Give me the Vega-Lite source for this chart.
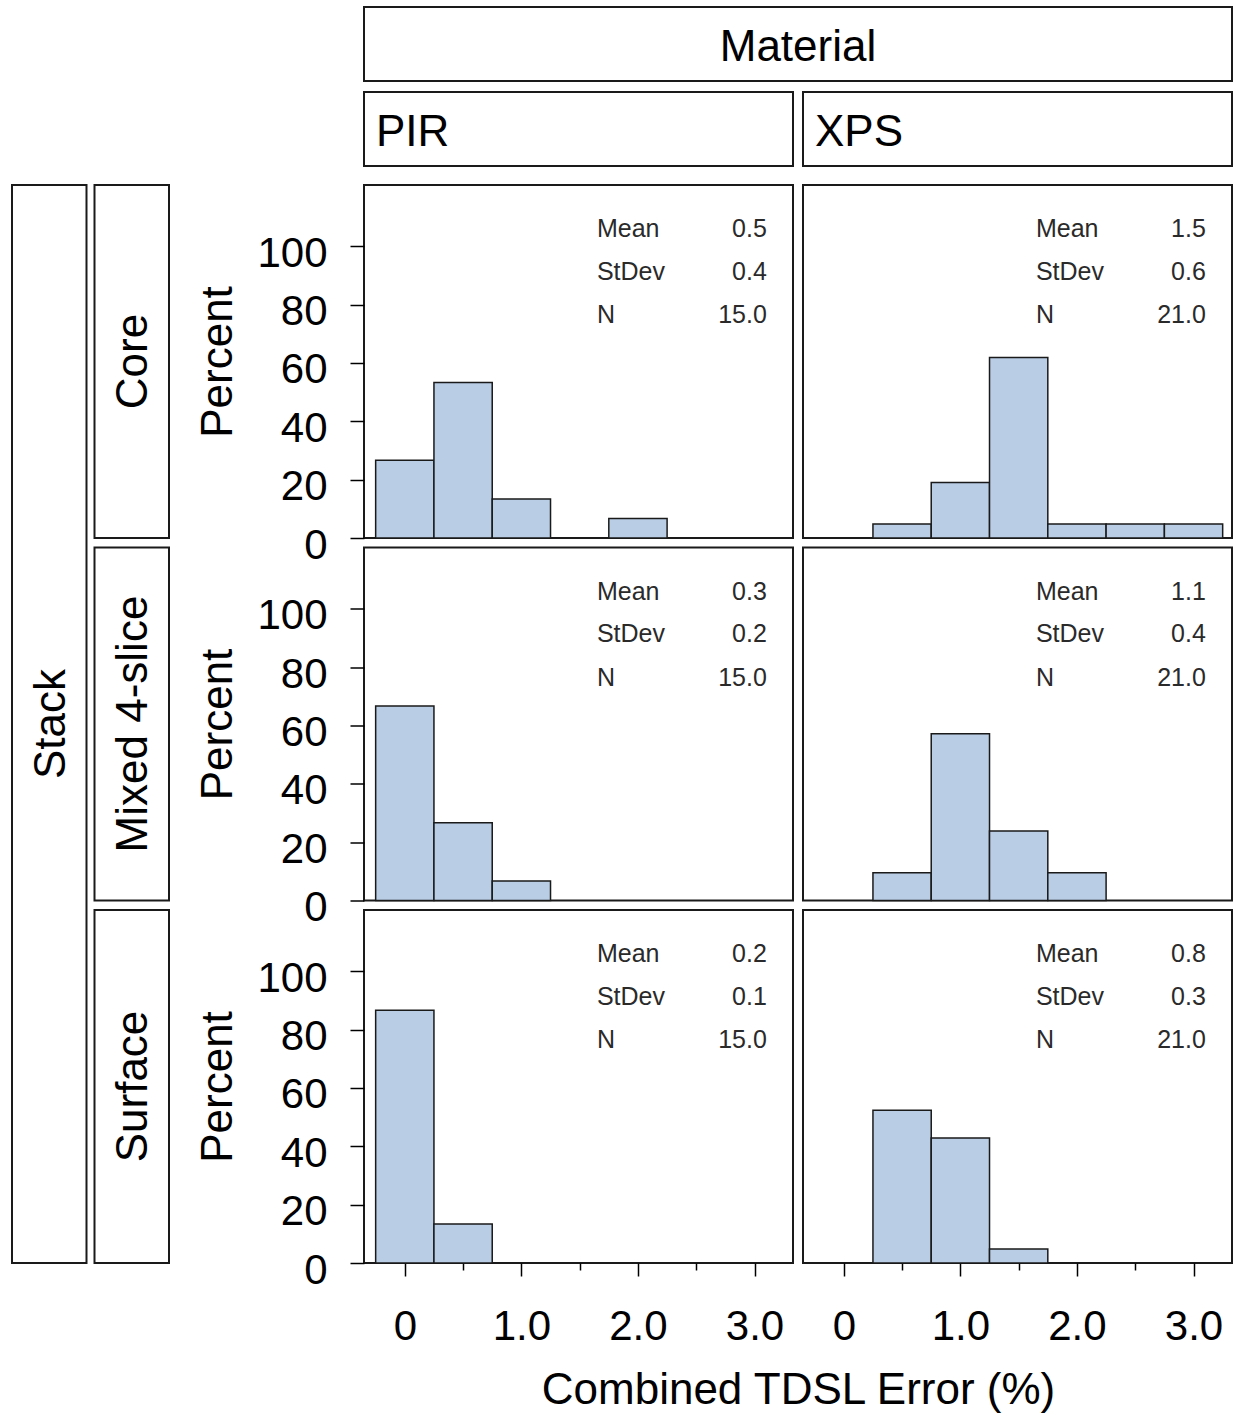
{
  "$schema": "https://vega.github.io/schema/vega-lite/v6.json",
  "background": "white",
  "padding": {"left": 11, "top": 6, "right": 2, "bottom": 2},
  "config": {
    "font": "Liberation Sans",
    "view": {"stroke": null},
    "text": {"font": "Liberation Sans"},
    "axis": {"labelFont": "Liberation Sans", "titleFont": "Liberation Sans", "labelFontSize": 42, "labelColor": "black", "tickColor": "black", "tickWidth": 1.5, "domain": false, "grid": false, "labelOverlap": false, "labelFlush": false, "titleFontSize": 44, "titleFontWeight": "normal", "titleColor": "black"},
    "axisY": {"labelPadding": 23, "labelOffset": 7, "tickSize": 14, "titlePadding": 16},
    "axisX": {"labelPadding": 30, "titlePadding": 21}
  },
  "datasets": {
    "bins": [
      {"material": "PIR", "stack": "Core", "bin_start": -0.25, "bin_end": 0.25, "percent": 26.67},
      {"material": "PIR", "stack": "Core", "bin_start": 0.25, "bin_end": 0.75, "percent": 53.33},
      {"material": "PIR", "stack": "Core", "bin_start": 0.75, "bin_end": 1.25, "percent": 13.33},
      {"material": "PIR", "stack": "Core", "bin_start": 1.75, "bin_end": 2.25, "percent": 6.67},
      {"material": "XPS", "stack": "Core", "bin_start": 0.25, "bin_end": 0.75, "percent": 4.76},
      {"material": "XPS", "stack": "Core", "bin_start": 0.75, "bin_end": 1.25, "percent": 19.05},
      {"material": "XPS", "stack": "Core", "bin_start": 1.25, "bin_end": 1.75, "percent": 61.9},
      {"material": "XPS", "stack": "Core", "bin_start": 1.75, "bin_end": 2.25, "percent": 4.76},
      {"material": "XPS", "stack": "Core", "bin_start": 2.25, "bin_end": 2.75, "percent": 4.76},
      {"material": "XPS", "stack": "Core", "bin_start": 2.75, "bin_end": 3.25, "percent": 4.76},
      {"material": "PIR", "stack": "Mixed 4-slice", "bin_start": -0.25, "bin_end": 0.25, "percent": 66.67},
      {"material": "PIR", "stack": "Mixed 4-slice", "bin_start": 0.25, "bin_end": 0.75, "percent": 26.67},
      {"material": "PIR", "stack": "Mixed 4-slice", "bin_start": 0.75, "bin_end": 1.25, "percent": 6.67},
      {"material": "XPS", "stack": "Mixed 4-slice", "bin_start": 0.25, "bin_end": 0.75, "percent": 9.52},
      {"material": "XPS", "stack": "Mixed 4-slice", "bin_start": 0.75, "bin_end": 1.25, "percent": 57.14},
      {"material": "XPS", "stack": "Mixed 4-slice", "bin_start": 1.25, "bin_end": 1.75, "percent": 23.81},
      {"material": "XPS", "stack": "Mixed 4-slice", "bin_start": 1.75, "bin_end": 2.25, "percent": 9.52},
      {"material": "PIR", "stack": "Surface", "bin_start": -0.25, "bin_end": 0.25, "percent": 86.67},
      {"material": "PIR", "stack": "Surface", "bin_start": 0.25, "bin_end": 0.75, "percent": 13.33},
      {"material": "XPS", "stack": "Surface", "bin_start": 0.25, "bin_end": 0.75, "percent": 52.38},
      {"material": "XPS", "stack": "Surface", "bin_start": 0.75, "bin_end": 1.25, "percent": 42.86},
      {"material": "XPS", "stack": "Surface", "bin_start": 1.25, "bin_end": 1.75, "percent": 4.76}
    ],
    "stats": [
      {"material": "PIR", "stack": "Core", "mean": 0.5, "stdev": 0.4, "n": 15},
      {"material": "XPS", "stack": "Core", "mean": 1.5, "stdev": 0.6, "n": 21},
      {"material": "PIR", "stack": "Mixed 4-slice", "mean": 0.3, "stdev": 0.2, "n": 15},
      {"material": "XPS", "stack": "Mixed 4-slice", "mean": 1.1, "stdev": 0.4, "n": 21},
      {"material": "PIR", "stack": "Surface", "mean": 0.2, "stdev": 0.1, "n": 15},
      {"material": "XPS", "stack": "Surface", "mean": 0.8, "stdev": 0.3, "n": 21}
    ],
    "colheads": [
      {"level": "top", "label": "Material"},
      {"level": "bottom", "material": "PIR", "label": "PIR"},
      {"level": "bottom", "material": "XPS", "label": "XPS"}
    ],
    "rowheads": [
      {"col": "outer", "label": "Stack"},
      {"col": "inner", "stack": "Core", "label": "Core"},
      {"col": "inner", "stack": "Mixed 4-slice", "label": "Mixed 4-slice"},
      {"col": "inner", "stack": "Surface", "label": "Surface"}
    ]
  },
  "columns": 2,
  "spacing": {"row": 19, "column": 195},
  "bounds": "flush",
  "concat": [
    {
      "width": 157, "height": 159,
      "data": {"values": [{"a": 1}]},
      "mark": {"type": "text", "text": ""},
      "encoding": {}
    },
    {
      "width": 868, "height": 159,
      "data": {"name": "colheads"},
      "layer": [
        {
          "transform": [{"filter": "datum.level == 'top'"}],
          "mark": {"type": "rect", "fill": "white", "stroke": "#1a1a1a", "strokeWidth": 2},
          "encoding": {
            "y": {"field": "level", "type": "nominal", "scale": {"type": "band", "domain": ["top", "bottom"], "paddingInner": 0.1294, "paddingOuter": 0}, "axis": null}
          }
        },
        {
          "transform": [{"filter": "datum.level == 'bottom'"}],
          "mark": {"type": "rect", "fill": "white", "stroke": "#1a1a1a", "strokeWidth": 2},
          "encoding": {
            "x": {"field": "material", "type": "nominal", "scale": {"type": "band", "domain": ["PIR", "XPS"], "paddingInner": 0.02278, "paddingOuter": 0}, "axis": null},
            "y": {"field": "level", "type": "nominal", "scale": {"type": "band", "domain": ["top", "bottom"], "paddingInner": 0.1294, "paddingOuter": 0}, "axis": null}
          }
        },
        {
          "transform": [{"filter": "datum.level == 'top'"}],
          "mark": {"type": "text", "fontSize": 44, "fill": "black", "baseline": "middle"},
          "encoding": {
            "y": {"field": "level", "type": "nominal", "bandPosition": 0.555, "scale": {"type": "band", "domain": ["top", "bottom"], "paddingInner": 0.1294, "paddingOuter": 0}, "axis": null},
            "text": {"field": "label"}
          }
        },
        {
          "transform": [{"filter": "datum.level == 'bottom'"}],
          "mark": {"type": "text", "fontSize": 44, "fill": "black", "align": "left", "baseline": "middle"},
          "encoding": {
            "x": {"field": "material", "type": "nominal", "bandPosition": 0.028, "scale": {"type": "band", "domain": ["PIR", "XPS"], "paddingInner": 0.02278, "paddingOuter": 0}, "axis": null},
            "y": {"field": "level", "type": "nominal", "bandPosition": 0.555, "scale": {"type": "band", "domain": ["top", "bottom"], "paddingInner": 0.1294, "paddingOuter": 0}, "axis": null},
            "text": {"field": "label"}
          }
        }
      ]
    },
    {
      "width": 157, "height": 1078,
      "data": {"name": "rowheads"},
      "layer": [
        {
          "transform": [{"filter": "datum.col == 'outer'"}],
          "mark": {"type": "rect", "fill": "white", "stroke": "#1a1a1a", "strokeWidth": 2},
          "encoding": {
            "x": {"field": "col", "type": "nominal", "scale": {"type": "band", "domain": ["outer", "inner"], "paddingInner": 0.097, "paddingOuter": 0}, "axis": null}
          }
        },
        {
          "transform": [{"filter": "datum.col == 'inner'"}],
          "mark": {"type": "rect", "fill": "white", "stroke": "#1a1a1a", "strokeWidth": 2},
          "encoding": {
            "x": {"field": "col", "type": "nominal", "scale": {"type": "band", "domain": ["outer", "inner"], "paddingInner": 0.097, "paddingOuter": 0}, "axis": null},
            "y": {"field": "stack", "type": "nominal", "scale": {"type": "band", "domain": ["Core", "Mixed 4-slice", "Surface"], "paddingInner": 0.026207, "paddingOuter": 0}, "axis": null}
          }
        },
        {
          "transform": [{"filter": "datum.col == 'outer'"}],
          "mark": {"type": "text", "fontSize": 44, "fill": "black", "angle": 270, "baseline": "middle"},
          "encoding": {
            "x": {"field": "col", "type": "nominal", "bandPosition": 0.54, "scale": {"type": "band", "domain": ["outer", "inner"], "paddingInner": 0.097, "paddingOuter": 0}, "axis": null},
            "text": {"field": "label"}
          }
        },
        {
          "transform": [{"filter": "datum.col == 'inner'"}],
          "mark": {"type": "text", "fontSize": 44, "fill": "black", "angle": 270, "baseline": "middle"},
          "encoding": {
            "x": {"field": "col", "type": "nominal", "bandPosition": 0.53, "scale": {"type": "band", "domain": ["outer", "inner"], "paddingInner": 0.097, "paddingOuter": 0}, "axis": null},
            "y": {"field": "stack", "type": "nominal", "bandPosition": 0.5, "scale": {"type": "band", "domain": ["Core", "Mixed 4-slice", "Surface"], "paddingInner": 0.026207, "paddingOuter": 0}, "axis": null},
            "text": {"field": "label"}
          }
        }
      ]
    },
    {
      "columns": 2,
      "spacing": {"row": 9.5, "column": 10},
      "bounds": "flush",
      "concat": [
        {
          "width": 429, "height": 353,
          "view": {"stroke": "#1a1a1a", "strokeWidth": 2},
          "layer": [
            {"data": {"name": "bins"}, "transform": [{"filter": "datum.material == 'PIR' && datum.stack == 'Core'"}],
             "mark": {"type": "rect", "fill": "#B9CDE5", "stroke": "#1a1a1a", "strokeWidth": 1.5},
             "encoding": {
               "x": {"field": "bin_start", "type": "quantitative", "scale": {"domain": [-0.35, 3.33], "nice": false, "zero": false}, "axis": null},
               "x2": {"field": "bin_end"},
               "y": {"field": "percent", "type": "quantitative", "scale": {"domain": [0, 121], "nice": false, "zero": false}, "axis": {"values": [0, 20, 40, 60, 80, 100], "title": "Percent"}},
               "y2": {"datum": 0}}},
            {"data": {"name": "stats"}, "transform": [{"filter": "datum.material == 'PIR' && datum.stack == 'Core'"}], "mark": {"type": "text", "align": "left", "baseline": "middle", "fontSize": 25, "fill": "#2a2a2a"}, "encoding": {"x": {"datum": 1.648, "axis": null}, "y": {"datum": 105.9, "axis": {"values": [0, 20, 40, 60, 80, 100], "title": "Percent"}}, "text": {"value": "Mean"}}},
            {"data": {"name": "stats"}, "transform": [{"filter": "datum.material == 'PIR' && datum.stack == 'Core'"}], "mark": {"type": "text", "align": "left", "baseline": "middle", "fontSize": 25, "fill": "#2a2a2a"}, "encoding": {"x": {"datum": 1.648, "axis": null}, "y": {"datum": 91.2, "axis": {"values": [0, 20, 40, 60, 80, 100], "title": "Percent"}}, "text": {"value": "StDev"}}},
            {"data": {"name": "stats"}, "transform": [{"filter": "datum.material == 'PIR' && datum.stack == 'Core'"}], "mark": {"type": "text", "align": "left", "baseline": "middle", "fontSize": 25, "fill": "#2a2a2a"}, "encoding": {"x": {"datum": 1.648, "axis": null}, "y": {"datum": 76.4, "axis": {"values": [0, 20, 40, 60, 80, 100], "title": "Percent"}}, "text": {"value": "N"}}},
            {"data": {"name": "stats"}, "transform": [{"filter": "datum.material == 'PIR' && datum.stack == 'Core'"}], "mark": {"type": "text", "align": "right", "baseline": "middle", "fontSize": 25, "fill": "#2a2a2a"}, "encoding": {"x": {"datum": 3.106, "axis": null}, "y": {"datum": 105.9, "axis": {"values": [0, 20, 40, 60, 80, 100], "title": "Percent"}}, "text": {"field": "mean", "type": "quantitative", "format": ".1f"}}},
            {"data": {"name": "stats"}, "transform": [{"filter": "datum.material == 'PIR' && datum.stack == 'Core'"}], "mark": {"type": "text", "align": "right", "baseline": "middle", "fontSize": 25, "fill": "#2a2a2a"}, "encoding": {"x": {"datum": 3.106, "axis": null}, "y": {"datum": 91.2, "axis": {"values": [0, 20, 40, 60, 80, 100], "title": "Percent"}}, "text": {"field": "stdev", "type": "quantitative", "format": ".1f"}}},
            {"data": {"name": "stats"}, "transform": [{"filter": "datum.material == 'PIR' && datum.stack == 'Core'"}], "mark": {"type": "text", "align": "right", "baseline": "middle", "fontSize": 25, "fill": "#2a2a2a"}, "encoding": {"x": {"datum": 3.106, "axis": null}, "y": {"datum": 76.4, "axis": {"values": [0, 20, 40, 60, 80, 100], "title": "Percent"}}, "text": {"field": "n", "type": "quantitative", "format": ".1f"}}}
          ]
        },
        {
          "width": 429, "height": 353,
          "view": {"stroke": "#1a1a1a", "strokeWidth": 2},
          "layer": [
            {"data": {"name": "bins"}, "transform": [{"filter": "datum.material == 'XPS' && datum.stack == 'Core'"}],
             "mark": {"type": "rect", "fill": "#B9CDE5", "stroke": "#1a1a1a", "strokeWidth": 1.5},
             "encoding": {
               "x": {"field": "bin_start", "type": "quantitative", "scale": {"domain": [-0.35, 3.33], "nice": false, "zero": false}, "axis": null},
               "x2": {"field": "bin_end"},
               "y": {"field": "percent", "type": "quantitative", "scale": {"domain": [0, 121], "nice": false, "zero": false}, "axis": null},
               "y2": {"datum": 0}}},
            {"data": {"name": "stats"}, "transform": [{"filter": "datum.material == 'XPS' && datum.stack == 'Core'"}], "mark": {"type": "text", "align": "left", "baseline": "middle", "fontSize": 25, "fill": "#2a2a2a"}, "encoding": {"x": {"datum": 1.648, "axis": null}, "y": {"datum": 105.9, "axis": null}, "text": {"value": "Mean"}}},
            {"data": {"name": "stats"}, "transform": [{"filter": "datum.material == 'XPS' && datum.stack == 'Core'"}], "mark": {"type": "text", "align": "left", "baseline": "middle", "fontSize": 25, "fill": "#2a2a2a"}, "encoding": {"x": {"datum": 1.648, "axis": null}, "y": {"datum": 91.2, "axis": null}, "text": {"value": "StDev"}}},
            {"data": {"name": "stats"}, "transform": [{"filter": "datum.material == 'XPS' && datum.stack == 'Core'"}], "mark": {"type": "text", "align": "left", "baseline": "middle", "fontSize": 25, "fill": "#2a2a2a"}, "encoding": {"x": {"datum": 1.648, "axis": null}, "y": {"datum": 76.4, "axis": null}, "text": {"value": "N"}}},
            {"data": {"name": "stats"}, "transform": [{"filter": "datum.material == 'XPS' && datum.stack == 'Core'"}], "mark": {"type": "text", "align": "right", "baseline": "middle", "fontSize": 25, "fill": "#2a2a2a"}, "encoding": {"x": {"datum": 3.106, "axis": null}, "y": {"datum": 105.9, "axis": null}, "text": {"field": "mean", "type": "quantitative", "format": ".1f"}}},
            {"data": {"name": "stats"}, "transform": [{"filter": "datum.material == 'XPS' && datum.stack == 'Core'"}], "mark": {"type": "text", "align": "right", "baseline": "middle", "fontSize": 25, "fill": "#2a2a2a"}, "encoding": {"x": {"datum": 3.106, "axis": null}, "y": {"datum": 91.2, "axis": null}, "text": {"field": "stdev", "type": "quantitative", "format": ".1f"}}},
            {"data": {"name": "stats"}, "transform": [{"filter": "datum.material == 'XPS' && datum.stack == 'Core'"}], "mark": {"type": "text", "align": "right", "baseline": "middle", "fontSize": 25, "fill": "#2a2a2a"}, "encoding": {"x": {"datum": 3.106, "axis": null}, "y": {"datum": 76.4, "axis": null}, "text": {"field": "n", "type": "quantitative", "format": ".1f"}}}
          ]
        },
        {
          "width": 429, "height": 353,
          "view": {"stroke": "#1a1a1a", "strokeWidth": 2},
          "layer": [
            {"data": {"name": "bins"}, "transform": [{"filter": "datum.material == 'PIR' && datum.stack == 'Mixed 4-slice'"}],
             "mark": {"type": "rect", "fill": "#B9CDE5", "stroke": "#1a1a1a", "strokeWidth": 1.5},
             "encoding": {
               "x": {"field": "bin_start", "type": "quantitative", "scale": {"domain": [-0.35, 3.33], "nice": false, "zero": false}, "axis": null},
               "x2": {"field": "bin_end"},
               "y": {"field": "percent", "type": "quantitative", "scale": {"domain": [0, 121], "nice": false, "zero": false}, "axis": {"values": [0, 20, 40, 60, 80, 100], "title": "Percent"}},
               "y2": {"datum": 0}}},
            {"data": {"name": "stats"}, "transform": [{"filter": "datum.material == 'PIR' && datum.stack == 'Mixed 4-slice'"}], "mark": {"type": "text", "align": "left", "baseline": "middle", "fontSize": 25, "fill": "#2a2a2a"}, "encoding": {"x": {"datum": 1.648, "axis": null}, "y": {"datum": 105.9, "axis": {"values": [0, 20, 40, 60, 80, 100], "title": "Percent"}}, "text": {"value": "Mean"}}},
            {"data": {"name": "stats"}, "transform": [{"filter": "datum.material == 'PIR' && datum.stack == 'Mixed 4-slice'"}], "mark": {"type": "text", "align": "left", "baseline": "middle", "fontSize": 25, "fill": "#2a2a2a"}, "encoding": {"x": {"datum": 1.648, "axis": null}, "y": {"datum": 91.2, "axis": {"values": [0, 20, 40, 60, 80, 100], "title": "Percent"}}, "text": {"value": "StDev"}}},
            {"data": {"name": "stats"}, "transform": [{"filter": "datum.material == 'PIR' && datum.stack == 'Mixed 4-slice'"}], "mark": {"type": "text", "align": "left", "baseline": "middle", "fontSize": 25, "fill": "#2a2a2a"}, "encoding": {"x": {"datum": 1.648, "axis": null}, "y": {"datum": 76.4, "axis": {"values": [0, 20, 40, 60, 80, 100], "title": "Percent"}}, "text": {"value": "N"}}},
            {"data": {"name": "stats"}, "transform": [{"filter": "datum.material == 'PIR' && datum.stack == 'Mixed 4-slice'"}], "mark": {"type": "text", "align": "right", "baseline": "middle", "fontSize": 25, "fill": "#2a2a2a"}, "encoding": {"x": {"datum": 3.106, "axis": null}, "y": {"datum": 105.9, "axis": {"values": [0, 20, 40, 60, 80, 100], "title": "Percent"}}, "text": {"field": "mean", "type": "quantitative", "format": ".1f"}}},
            {"data": {"name": "stats"}, "transform": [{"filter": "datum.material == 'PIR' && datum.stack == 'Mixed 4-slice'"}], "mark": {"type": "text", "align": "right", "baseline": "middle", "fontSize": 25, "fill": "#2a2a2a"}, "encoding": {"x": {"datum": 3.106, "axis": null}, "y": {"datum": 91.2, "axis": {"values": [0, 20, 40, 60, 80, 100], "title": "Percent"}}, "text": {"field": "stdev", "type": "quantitative", "format": ".1f"}}},
            {"data": {"name": "stats"}, "transform": [{"filter": "datum.material == 'PIR' && datum.stack == 'Mixed 4-slice'"}], "mark": {"type": "text", "align": "right", "baseline": "middle", "fontSize": 25, "fill": "#2a2a2a"}, "encoding": {"x": {"datum": 3.106, "axis": null}, "y": {"datum": 76.4, "axis": {"values": [0, 20, 40, 60, 80, 100], "title": "Percent"}}, "text": {"field": "n", "type": "quantitative", "format": ".1f"}}}
          ]
        },
        {
          "width": 429, "height": 353,
          "view": {"stroke": "#1a1a1a", "strokeWidth": 2},
          "layer": [
            {"data": {"name": "bins"}, "transform": [{"filter": "datum.material == 'XPS' && datum.stack == 'Mixed 4-slice'"}],
             "mark": {"type": "rect", "fill": "#B9CDE5", "stroke": "#1a1a1a", "strokeWidth": 1.5},
             "encoding": {
               "x": {"field": "bin_start", "type": "quantitative", "scale": {"domain": [-0.35, 3.33], "nice": false, "zero": false}, "axis": null},
               "x2": {"field": "bin_end"},
               "y": {"field": "percent", "type": "quantitative", "scale": {"domain": [0, 121], "nice": false, "zero": false}, "axis": null},
               "y2": {"datum": 0}}},
            {"data": {"name": "stats"}, "transform": [{"filter": "datum.material == 'XPS' && datum.stack == 'Mixed 4-slice'"}], "mark": {"type": "text", "align": "left", "baseline": "middle", "fontSize": 25, "fill": "#2a2a2a"}, "encoding": {"x": {"datum": 1.648, "axis": null}, "y": {"datum": 105.9, "axis": null}, "text": {"value": "Mean"}}},
            {"data": {"name": "stats"}, "transform": [{"filter": "datum.material == 'XPS' && datum.stack == 'Mixed 4-slice'"}], "mark": {"type": "text", "align": "left", "baseline": "middle", "fontSize": 25, "fill": "#2a2a2a"}, "encoding": {"x": {"datum": 1.648, "axis": null}, "y": {"datum": 91.2, "axis": null}, "text": {"value": "StDev"}}},
            {"data": {"name": "stats"}, "transform": [{"filter": "datum.material == 'XPS' && datum.stack == 'Mixed 4-slice'"}], "mark": {"type": "text", "align": "left", "baseline": "middle", "fontSize": 25, "fill": "#2a2a2a"}, "encoding": {"x": {"datum": 1.648, "axis": null}, "y": {"datum": 76.4, "axis": null}, "text": {"value": "N"}}},
            {"data": {"name": "stats"}, "transform": [{"filter": "datum.material == 'XPS' && datum.stack == 'Mixed 4-slice'"}], "mark": {"type": "text", "align": "right", "baseline": "middle", "fontSize": 25, "fill": "#2a2a2a"}, "encoding": {"x": {"datum": 3.106, "axis": null}, "y": {"datum": 105.9, "axis": null}, "text": {"field": "mean", "type": "quantitative", "format": ".1f"}}},
            {"data": {"name": "stats"}, "transform": [{"filter": "datum.material == 'XPS' && datum.stack == 'Mixed 4-slice'"}], "mark": {"type": "text", "align": "right", "baseline": "middle", "fontSize": 25, "fill": "#2a2a2a"}, "encoding": {"x": {"datum": 3.106, "axis": null}, "y": {"datum": 91.2, "axis": null}, "text": {"field": "stdev", "type": "quantitative", "format": ".1f"}}},
            {"data": {"name": "stats"}, "transform": [{"filter": "datum.material == 'XPS' && datum.stack == 'Mixed 4-slice'"}], "mark": {"type": "text", "align": "right", "baseline": "middle", "fontSize": 25, "fill": "#2a2a2a"}, "encoding": {"x": {"datum": 3.106, "axis": null}, "y": {"datum": 76.4, "axis": null}, "text": {"field": "n", "type": "quantitative", "format": ".1f"}}}
          ]
        },
        {
          "width": 429, "height": 353,
          "view": {"stroke": "#1a1a1a", "strokeWidth": 2},
          "layer": [
            {"data": {"name": "bins"}, "transform": [{"filter": "datum.material == 'PIR' && datum.stack == 'Surface'"}],
             "mark": {"type": "rect", "fill": "#B9CDE5", "stroke": "#1a1a1a", "strokeWidth": 1.5},
             "encoding": {
               "x": {"field": "bin_start", "type": "quantitative", "scale": {"domain": [-0.35, 3.33], "nice": false, "zero": false}, "axis": {"values": [0, 0.5, 1, 1.5, 2, 2.5, 3], "labelExpr": "datum.value == 0 ? '0' : (datum.value % 1 == 0 ? format(datum.value, '.1f') : '')", "tickSize": {"condition": {"test": "datum.value % 1 == 0", "value": 13}, "value": 7}, "title": "Combined TDSL Error (%)", "titleX": 434, "titleAlign": "center"}},
               "x2": {"field": "bin_end"},
               "y": {"field": "percent", "type": "quantitative", "scale": {"domain": [0, 121], "nice": false, "zero": false}, "axis": {"values": [0, 20, 40, 60, 80, 100], "title": "Percent"}},
               "y2": {"datum": 0}}},
            {"data": {"name": "stats"}, "transform": [{"filter": "datum.material == 'PIR' && datum.stack == 'Surface'"}], "mark": {"type": "text", "align": "left", "baseline": "middle", "fontSize": 25, "fill": "#2a2a2a"}, "encoding": {"x": {"datum": 1.648, "axis": {"values": [0, 0.5, 1, 1.5, 2, 2.5, 3], "labelExpr": "datum.value == 0 ? '0' : (datum.value % 1 == 0 ? format(datum.value, '.1f') : '')", "tickSize": {"condition": {"test": "datum.value % 1 == 0", "value": 13}, "value": 7}, "title": "Combined TDSL Error (%)", "titleX": 434, "titleAlign": "center"}}, "y": {"datum": 105.9, "axis": {"values": [0, 20, 40, 60, 80, 100], "title": "Percent"}}, "text": {"value": "Mean"}}},
            {"data": {"name": "stats"}, "transform": [{"filter": "datum.material == 'PIR' && datum.stack == 'Surface'"}], "mark": {"type": "text", "align": "left", "baseline": "middle", "fontSize": 25, "fill": "#2a2a2a"}, "encoding": {"x": {"datum": 1.648, "axis": {"values": [0, 0.5, 1, 1.5, 2, 2.5, 3], "labelExpr": "datum.value == 0 ? '0' : (datum.value % 1 == 0 ? format(datum.value, '.1f') : '')", "tickSize": {"condition": {"test": "datum.value % 1 == 0", "value": 13}, "value": 7}, "title": "Combined TDSL Error (%)", "titleX": 434, "titleAlign": "center"}}, "y": {"datum": 91.2, "axis": {"values": [0, 20, 40, 60, 80, 100], "title": "Percent"}}, "text": {"value": "StDev"}}},
            {"data": {"name": "stats"}, "transform": [{"filter": "datum.material == 'PIR' && datum.stack == 'Surface'"}], "mark": {"type": "text", "align": "left", "baseline": "middle", "fontSize": 25, "fill": "#2a2a2a"}, "encoding": {"x": {"datum": 1.648, "axis": {"values": [0, 0.5, 1, 1.5, 2, 2.5, 3], "labelExpr": "datum.value == 0 ? '0' : (datum.value % 1 == 0 ? format(datum.value, '.1f') : '')", "tickSize": {"condition": {"test": "datum.value % 1 == 0", "value": 13}, "value": 7}, "title": "Combined TDSL Error (%)", "titleX": 434, "titleAlign": "center"}}, "y": {"datum": 76.4, "axis": {"values": [0, 20, 40, 60, 80, 100], "title": "Percent"}}, "text": {"value": "N"}}},
            {"data": {"name": "stats"}, "transform": [{"filter": "datum.material == 'PIR' && datum.stack == 'Surface'"}], "mark": {"type": "text", "align": "right", "baseline": "middle", "fontSize": 25, "fill": "#2a2a2a"}, "encoding": {"x": {"datum": 3.106, "axis": {"values": [0, 0.5, 1, 1.5, 2, 2.5, 3], "labelExpr": "datum.value == 0 ? '0' : (datum.value % 1 == 0 ? format(datum.value, '.1f') : '')", "tickSize": {"condition": {"test": "datum.value % 1 == 0", "value": 13}, "value": 7}, "title": "Combined TDSL Error (%)", "titleX": 434, "titleAlign": "center"}}, "y": {"datum": 105.9, "axis": {"values": [0, 20, 40, 60, 80, 100], "title": "Percent"}}, "text": {"field": "mean", "type": "quantitative", "format": ".1f"}}},
            {"data": {"name": "stats"}, "transform": [{"filter": "datum.material == 'PIR' && datum.stack == 'Surface'"}], "mark": {"type": "text", "align": "right", "baseline": "middle", "fontSize": 25, "fill": "#2a2a2a"}, "encoding": {"x": {"datum": 3.106, "axis": {"values": [0, 0.5, 1, 1.5, 2, 2.5, 3], "labelExpr": "datum.value == 0 ? '0' : (datum.value % 1 == 0 ? format(datum.value, '.1f') : '')", "tickSize": {"condition": {"test": "datum.value % 1 == 0", "value": 13}, "value": 7}, "title": "Combined TDSL Error (%)", "titleX": 434, "titleAlign": "center"}}, "y": {"datum": 91.2, "axis": {"values": [0, 20, 40, 60, 80, 100], "title": "Percent"}}, "text": {"field": "stdev", "type": "quantitative", "format": ".1f"}}},
            {"data": {"name": "stats"}, "transform": [{"filter": "datum.material == 'PIR' && datum.stack == 'Surface'"}], "mark": {"type": "text", "align": "right", "baseline": "middle", "fontSize": 25, "fill": "#2a2a2a"}, "encoding": {"x": {"datum": 3.106, "axis": {"values": [0, 0.5, 1, 1.5, 2, 2.5, 3], "labelExpr": "datum.value == 0 ? '0' : (datum.value % 1 == 0 ? format(datum.value, '.1f') : '')", "tickSize": {"condition": {"test": "datum.value % 1 == 0", "value": 13}, "value": 7}, "title": "Combined TDSL Error (%)", "titleX": 434, "titleAlign": "center"}}, "y": {"datum": 76.4, "axis": {"values": [0, 20, 40, 60, 80, 100], "title": "Percent"}}, "text": {"field": "n", "type": "quantitative", "format": ".1f"}}}
          ]
        },
        {
          "width": 429, "height": 353,
          "view": {"stroke": "#1a1a1a", "strokeWidth": 2},
          "layer": [
            {"data": {"name": "bins"}, "transform": [{"filter": "datum.material == 'XPS' && datum.stack == 'Surface'"}],
             "mark": {"type": "rect", "fill": "#B9CDE5", "stroke": "#1a1a1a", "strokeWidth": 1.5},
             "encoding": {
               "x": {"field": "bin_start", "type": "quantitative", "scale": {"domain": [-0.35, 3.33], "nice": false, "zero": false}, "axis": {"values": [0, 0.5, 1, 1.5, 2, 2.5, 3], "labelExpr": "datum.value == 0 ? '0' : (datum.value % 1 == 0 ? format(datum.value, '.1f') : '')", "tickSize": {"condition": {"test": "datum.value % 1 == 0", "value": 13}, "value": 7}, "title": null}},
               "x2": {"field": "bin_end"},
               "y": {"field": "percent", "type": "quantitative", "scale": {"domain": [0, 121], "nice": false, "zero": false}, "axis": null},
               "y2": {"datum": 0}}},
            {"data": {"name": "stats"}, "transform": [{"filter": "datum.material == 'XPS' && datum.stack == 'Surface'"}], "mark": {"type": "text", "align": "left", "baseline": "middle", "fontSize": 25, "fill": "#2a2a2a"}, "encoding": {"x": {"datum": 1.648, "axis": {"values": [0, 0.5, 1, 1.5, 2, 2.5, 3], "labelExpr": "datum.value == 0 ? '0' : (datum.value % 1 == 0 ? format(datum.value, '.1f') : '')", "tickSize": {"condition": {"test": "datum.value % 1 == 0", "value": 13}, "value": 7}, "title": null}}, "y": {"datum": 105.9, "axis": null}, "text": {"value": "Mean"}}},
            {"data": {"name": "stats"}, "transform": [{"filter": "datum.material == 'XPS' && datum.stack == 'Surface'"}], "mark": {"type": "text", "align": "left", "baseline": "middle", "fontSize": 25, "fill": "#2a2a2a"}, "encoding": {"x": {"datum": 1.648, "axis": {"values": [0, 0.5, 1, 1.5, 2, 2.5, 3], "labelExpr": "datum.value == 0 ? '0' : (datum.value % 1 == 0 ? format(datum.value, '.1f') : '')", "tickSize": {"condition": {"test": "datum.value % 1 == 0", "value": 13}, "value": 7}, "title": null}}, "y": {"datum": 91.2, "axis": null}, "text": {"value": "StDev"}}},
            {"data": {"name": "stats"}, "transform": [{"filter": "datum.material == 'XPS' && datum.stack == 'Surface'"}], "mark": {"type": "text", "align": "left", "baseline": "middle", "fontSize": 25, "fill": "#2a2a2a"}, "encoding": {"x": {"datum": 1.648, "axis": {"values": [0, 0.5, 1, 1.5, 2, 2.5, 3], "labelExpr": "datum.value == 0 ? '0' : (datum.value % 1 == 0 ? format(datum.value, '.1f') : '')", "tickSize": {"condition": {"test": "datum.value % 1 == 0", "value": 13}, "value": 7}, "title": null}}, "y": {"datum": 76.4, "axis": null}, "text": {"value": "N"}}},
            {"data": {"name": "stats"}, "transform": [{"filter": "datum.material == 'XPS' && datum.stack == 'Surface'"}], "mark": {"type": "text", "align": "right", "baseline": "middle", "fontSize": 25, "fill": "#2a2a2a"}, "encoding": {"x": {"datum": 3.106, "axis": {"values": [0, 0.5, 1, 1.5, 2, 2.5, 3], "labelExpr": "datum.value == 0 ? '0' : (datum.value % 1 == 0 ? format(datum.value, '.1f') : '')", "tickSize": {"condition": {"test": "datum.value % 1 == 0", "value": 13}, "value": 7}, "title": null}}, "y": {"datum": 105.9, "axis": null}, "text": {"field": "mean", "type": "quantitative", "format": ".1f"}}},
            {"data": {"name": "stats"}, "transform": [{"filter": "datum.material == 'XPS' && datum.stack == 'Surface'"}], "mark": {"type": "text", "align": "right", "baseline": "middle", "fontSize": 25, "fill": "#2a2a2a"}, "encoding": {"x": {"datum": 3.106, "axis": {"values": [0, 0.5, 1, 1.5, 2, 2.5, 3], "labelExpr": "datum.value == 0 ? '0' : (datum.value % 1 == 0 ? format(datum.value, '.1f') : '')", "tickSize": {"condition": {"test": "datum.value % 1 == 0", "value": 13}, "value": 7}, "title": null}}, "y": {"datum": 91.2, "axis": null}, "text": {"field": "stdev", "type": "quantitative", "format": ".1f"}}},
            {"data": {"name": "stats"}, "transform": [{"filter": "datum.material == 'XPS' && datum.stack == 'Surface'"}], "mark": {"type": "text", "align": "right", "baseline": "middle", "fontSize": 25, "fill": "#2a2a2a"}, "encoding": {"x": {"datum": 3.106, "axis": {"values": [0, 0.5, 1, 1.5, 2, 2.5, 3], "labelExpr": "datum.value == 0 ? '0' : (datum.value % 1 == 0 ? format(datum.value, '.1f') : '')", "tickSize": {"condition": {"test": "datum.value % 1 == 0", "value": 13}, "value": 7}, "title": null}}, "y": {"datum": 76.4, "axis": null}, "text": {"field": "n", "type": "quantitative", "format": ".1f"}}}
          ]
        }
      ]
    }
  ]
}
